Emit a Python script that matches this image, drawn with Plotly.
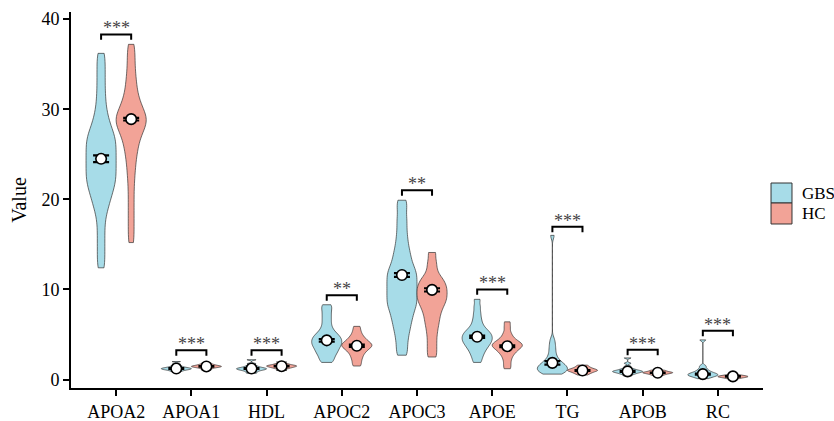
import plotly.graph_objects as go

categories = ["APOA2", "APOA1", "HDL", "APOC2", "APOC3", "APOE", "TG", "APOB", "RC"]
groups = ["GBS", "HC"]

# Estimated sample values (quantile-like) read from the violin shapes
gbs_values = {
    "APOA2": [12.4, 13.6, 14.8, 16.0, 17.2, 18.3, 19.0, 19.6, 20.1, 20.5, 20.9, 21.3, 21.6,
              21.9, 22.2, 22.5, 22.8, 23.1, 23.4, 23.7, 24.0, 24.3, 24.6, 24.9, 25.2, 25.5,
              25.8, 26.1, 26.4, 26.7, 27.0, 27.3, 27.7, 28.1, 28.6, 29.2, 29.9, 30.8, 31.8,
              32.9, 34.0, 35.1, 36.2],
    "APOA1": [0.9, 1.0, 1.07, 1.12, 1.16, 1.2, 1.24, 1.28, 1.33, 1.4, 1.5, 1.7, 2.0],
    "HDL": [0.7, 0.85, 0.97, 1.05, 1.11, 1.16, 1.21, 1.26, 1.32, 1.4, 1.52, 1.75, 2.2],
    "APOC2": [1.9, 2.2, 2.5, 2.8, 3.0, 3.2, 3.4, 3.6, 3.75, 3.9, 4.05, 4.2, 4.35, 4.5, 4.65,
              4.8, 5.0, 5.2, 5.5, 5.9, 6.4, 6.9, 7.4, 7.9, 8.3],
    "APOC3": [2.7, 3.5, 4.3, 5.0, 5.6, 6.1, 6.6, 7.0, 7.4, 7.8, 8.1, 8.4, 8.7, 9.0, 9.3, 9.6,
              9.9, 10.2, 10.5, 10.8, 11.1, 11.4, 11.7, 12.0, 12.3, 12.7, 13.1, 13.6, 14.1,
              14.7, 15.4, 16.2, 17.1, 18.0, 19.0, 19.9],
    "APOE": [1.9, 2.4, 2.8, 3.1, 3.4, 3.6, 3.8, 4.0, 4.15, 4.3, 4.45, 4.6, 4.75, 4.9, 5.05,
             5.2, 5.4, 5.6, 5.9, 6.3, 6.8, 7.4, 8.1, 8.9],
    "TG": [0.6, 0.7, 0.8, 0.9, 1.0, 1.1, 1.2, 1.3, 1.4, 1.5, 1.6, 1.75, 1.9, 2.1, 2.4, 2.8,
           3.3, 3.8, 4.4, 16.0],
    "APOB": [0.4, 0.55, 0.65, 0.72, 0.78, 0.83, 0.87, 0.91, 0.95, 1.0, 1.06, 1.14, 1.25, 1.45,
             1.8, 2.4],
    "RC": [0.1, 0.25, 0.35, 0.42, 0.48, 0.54, 0.6, 0.67, 0.75, 0.85, 1.0, 1.2, 1.5, 4.4],
}
hc_values = {
    "APOA2": [15.2, 16.4, 17.6, 18.8, 20.0, 21.2, 22.3, 23.2, 24.0, 24.7, 25.3, 25.8, 26.3,
              26.7, 27.1, 27.4, 27.7, 28.0, 28.2, 28.4, 28.6, 28.8, 29.0, 29.2, 29.4, 29.6,
              29.9, 30.2, 30.5, 30.9, 31.3, 31.8, 32.4, 33.0, 33.7, 34.5, 35.4, 36.3, 37.2],
    "APOA1": [1.05, 1.2, 1.3, 1.36, 1.41, 1.45, 1.49, 1.54, 1.6, 1.68, 1.8],
    "HDL": [1.0, 1.2, 1.3, 1.37, 1.43, 1.48, 1.53, 1.58, 1.65, 1.75, 1.95],
    "APOC2": [1.5, 1.9, 2.3, 2.6, 2.9, 3.1, 3.3, 3.45, 3.6, 3.7, 3.8, 3.9, 4.0, 4.15, 4.3,
              4.5, 4.7, 5.0, 5.4, 5.9],
    "APOC3": [2.5, 3.3, 4.1, 4.9, 5.6, 6.2, 6.7, 7.2, 7.6, 8.0, 8.3, 8.6, 8.85, 9.1, 9.35,
              9.6, 9.85, 10.1, 10.35, 10.6, 10.9, 11.2, 11.6, 12.3, 13.1, 14.1],
    "APOE": [1.2, 1.7, 2.2, 2.6, 2.9, 3.1, 3.3, 3.45, 3.6, 3.7, 3.8, 3.9, 4.0, 4.15, 4.3,
             4.5, 4.8, 5.2, 5.8, 6.4],
    "TG": [0.5, 0.65, 0.75, 0.85, 0.92, 0.98, 1.03, 1.08, 1.14, 1.22, 1.32, 1.45, 1.6],
    "APOB": [0.45, 0.55, 0.62, 0.68, 0.72, 0.76, 0.8, 0.84, 0.9, 0.97, 1.05],
    "RC": [0.1, 0.18, 0.24, 0.28, 0.32, 0.36, 0.4, 0.45, 0.52, 0.65],
}

# Kernel bandwidths used for each density estimate
gbs_bw = [0.9, 0.06, 0.07, 0.35, 0.6, 0.35, 0.4, 0.08, 0.14]
hc_bw = [0.9, 0.06, 0.06, 0.3, 0.5, 0.3, 0.12, 0.06, 0.06]

gbs_mean = [24.5, 1.22, 1.22, 4.35, 11.6, 4.75, 1.85, 0.9, 0.6]
gbs_se = [0.37, 0.05, 0.05, 0.15, 0.2, 0.12, 0.2, 0.05, 0.07]
hc_mean = [28.9, 1.45, 1.48, 3.75, 9.95, 3.7, 1.0, 0.75, 0.35]
hc_se = [0.15, 0.03, 0.03, 0.12, 0.18, 0.1, 0.04, 0.02, 0.02]

sig_y = [38.3, 3.25, 3.25, 9.35, 21.0, 10.0, 16.95, 3.3, 5.4]
sig_labels = ["***", "***", "***", "**", "**", "***", "***", "***", "***"]

colors = {"GBS": "#A7DCE8", "HC": "#F2A397"}
offsets = {"GBS": -0.2, "HC": 0.2}
dodge_w = 0.4
tip = 0.6
FONT = "Liberation Serif"

fig = go.Figure()

for g, vals, bws in (("GBS", gbs_values, gbs_bw), ("HC", hc_values, hc_bw)):
    for i, cat in enumerate(categories):
        fig.add_trace(go.Violin(
            x0=i + offsets[g], y=vals[cat], width=dodge_w, bandwidth=bws[i],
            name=g, showlegend=False,
            fillcolor=colors[g], line=dict(color="#333333", width=0.7),
            opacity=1, points=False, spanmode="hard",
            box_visible=False, meanline_visible=False,
            hoverinfo="skip", scalemode="width",
        ))

for g, means, ses in (("GBS", gbs_mean, gbs_se), ("HC", hc_mean, hc_se)):
    fig.add_trace(go.Scatter(
        x=[i + offsets[g] for i in range(len(categories))], y=means,
        mode="markers", showlegend=False, hoverinfo="skip",
        marker=dict(symbol="circle", size=10.5, color="white",
                    line=dict(color="black", width=1.6)),
        error_y=dict(type="data", array=ses, visible=True, color="black",
                     thickness=2.2, width=8),
    ))

for i, (yv, lab) in enumerate(zip(sig_y, sig_labels)):
    l, r = i + offsets["GBS"], i + offsets["HC"]
    fig.add_trace(go.Scatter(
        x=[l, l, r, r], y=[yv - tip, yv, yv, yv - tip], mode="lines",
        line=dict(color="black", width=2), showlegend=False, hoverinfo="skip",
    ))
    fig.add_annotation(x=i, y=yv, text=lab, showarrow=False, yanchor="bottom",
                       yshift=-6, font=dict(size=18, color="#444444", family=FONT))

# Manual legend (keys stacked like ggplot)
legend_keys = [("GBS", 0.5452, 0.4920), ("HC", 0.4920, 0.4362)]
for name, y_top, y_bot in legend_keys:
    fig.add_shape(type="rect", xref="paper", yref="paper",
                  x0=1.0116, x1=1.0419, y0=y_bot, y1=y_top,
                  fillcolor=colors[name], line=dict(color="#333333", width=1))
    fig.add_annotation(xref="paper", yref="paper", x=1.053, y=(y_top + y_bot) / 2,
                       text=name, showarrow=False, xanchor="left", yanchor="middle",
                       font=dict(size=17, color="black", family=FONT))

fig.update_layout(
    width=834, height=421,
    margin=dict(l=71, r=71, t=12, b=33),
    paper_bgcolor="white", plot_bgcolor="white",
    violinmode="overlay", showlegend=False,
    font=dict(family=FONT, size=18, color="black"),
    xaxis=dict(range=[-0.6, 8.6], tickvals=list(range(len(categories))),
               ticktext=categories, showgrid=False, zeroline=False, automargin=False,
               showline=True, linecolor="black", linewidth=1.8,
               ticks="outside", ticklen=6, tickwidth=1.6, tickcolor="black",
               tickfont=dict(size=18, color="black", family=FONT)),
    yaxis=dict(range=[-0.94, 40.79], tickvals=[0, 10, 20, 30, 40],
               showgrid=False, zeroline=False, automargin=False,
               showline=True, linecolor="black", linewidth=1.8,
               ticks="outside", ticklen=6, tickwidth=1.6, tickcolor="black",
               tickfont=dict(size=18, color="black", family=FONT),
               title=dict(text="Value", font=dict(size=20, family=FONT), standoff=10)),
)

fig.write_html("out.html")
